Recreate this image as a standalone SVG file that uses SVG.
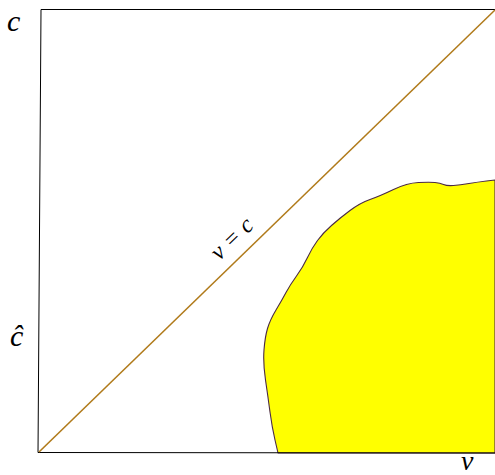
<svg xmlns="http://www.w3.org/2000/svg" width="495" height="475" viewBox="0 0 495 475">
<style>
.lbl{font-family:"Liberation Serif","DejaVu Serif",serif;font-style:italic;fill:#000}
.frame{stroke:#000;stroke-width:1;fill:none}
</style>
<rect width="495" height="475" fill="#fff"/>
<g id="region">
<path d="M278,453 L275,440 Q272,427 270,412 Q268,397 265.5,380 Q263,363 264,350 Q265,337 267.5,328.5 Q270,320 276,310 Q282,300 286,292.5 Q290,285 296.5,276 Q303,267 307.5,257.5 Q312,248 317.5,240.5 Q323,233 331.5,225.5 Q340,218 350,210.5 Q360,203 370,199.5 Q380,196 393.5,189.5 Q407,183 418.5,182.5 Q430,182 435,182.5 Q440,183 443.5,184.5 Q447,186 453.5,185.5 Q460,185 469,183.5 Q478,182 486.5,181 L495,180 L495,453 Z" fill="#ffff00" stroke="#4a2a45" stroke-width="1.1" stroke-linejoin="round"/>
</g>
<g id="axes">
<path class="frame" d="M41,9.5 L495,9.5"/>
<path class="frame" d="M41,9.5 L38,452.5"/>
<path class="frame" d="M38,452.5 L495,453"/>
</g>
<g id="connectors">
<line x1="39" y1="452" x2="495" y2="10" stroke="#b07a1a" stroke-width="1.6"/>
</g>
<g id="labels">
<text class="lbl" x="7" y="31" font-size="30">c</text>
<text class="lbl" x="10" y="346" font-size="30">ĉ</text>
<text class="lbl" x="461" y="470" font-size="28">v</text>
<text class="lbl" font-size="24" text-anchor="middle" transform="translate(237,244) rotate(-44)">v = c</text>
</g>
</svg>
